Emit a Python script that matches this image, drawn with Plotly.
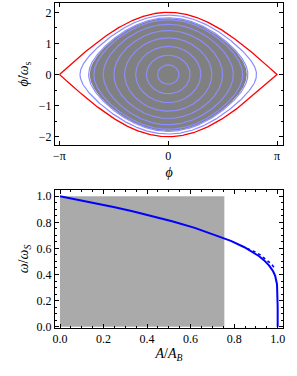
import numpy as np
import plotly.graph_objects as go

# ---------------- data ----------------
# top panel: amplitudes (rad) of the drawn orbits
orbit_amplitudes = [0.31, 0.63, 0.94, 1.26, 1.57, 1.88, 2.15, 2.30, 2.55]
filled_amplitude = 2.27          # edge of the grey filled region
separatrix_amplitude = np.pi     # red separatrix

x_tick_vals_top = [-np.pi, 0.0, np.pi]
x_tick_text_top = ["\u2212\u03c0", "0", "\u03c0"]
y_tick_vals_top = [-2, -1, 0, 1, 2]

# bottom panel: synchrotron frequency vs normalized area
area_ratio = [0.0, 0.08, 0.161, 0.246, 0.333, 0.424, 0.519, 0.619, 0.727,
              0.785, 0.847, 0.878, 0.915, 0.937, 0.961, 0.979, 0.9886,
              0.997, 0.9995, 1.0, 1.0]
freq_ratio = [1.0, 0.974, 0.947, 0.917, 0.884, 0.847, 0.806, 0.757, 0.696,
              0.658, 0.609, 0.579, 0.540, 0.510, 0.468, 0.425, 0.389,
              0.325, 0.25, 0.15, 0.0]
approx_area = [0.86, 0.88, 0.90, 0.92, 0.94, 0.955, 0.97, 0.98, 0.99]
approx_freq = [0.600, 0.588, 0.570, 0.550, 0.525, 0.505, 0.482, 0.462, 0.440]
shaded_area_max = 0.755
shaded_freq_max = 1.0


def orbit(a, n=400):
    """closed pendulum orbit with amplitude a (phi, phidot/omega_s)."""
    phi = a * np.sin(np.linspace(-np.pi / 2, np.pi / 2, n))
    s = np.sqrt(np.clip(np.sin(a / 2) ** 2 - np.sin(phi / 2) ** 2, 0, None))
    x = np.concatenate([phi, phi[::-1]])
    y = np.concatenate([2 * s, -2 * s[::-1]])
    return x, y


fig = go.Figure()

# grey filled region
fx, fy = orbit(filled_amplitude)
fig.add_trace(go.Scatter(x=fx, y=fy, mode="lines", fill="toself",
                         fillcolor="rgb(128,128,128)",
                         line=dict(color="rgb(128,128,128)", width=0),
                         hoverinfo="skip", showlegend=False,
                         xaxis="x", yaxis="y"))
for a in orbit_amplitudes:
    ox, oy = orbit(a)
    fig.add_trace(go.Scatter(x=ox, y=oy, mode="lines",
                             line=dict(color="rgb(140,140,255)", width=1.2),
                             showlegend=False, xaxis="x", yaxis="y"))
sx, sy = orbit(separatrix_amplitude, 800)
fig.add_trace(go.Scatter(x=sx, y=sy, mode="lines",
                         line=dict(color="rgb(255,0,0)", width=1.3),
                         showlegend=False, xaxis="x", yaxis="y"))

# bottom panel
fig.add_trace(go.Scatter(x=[0, shaded_area_max, shaded_area_max, 0, 0],
                         y=[0, 0, shaded_freq_max, shaded_freq_max, 0],
                         mode="lines", fill="toself",
                         fillcolor="rgb(170,170,170)",
                         line=dict(width=0, color="rgb(170,170,170)"),
                         showlegend=False, xaxis="x2", yaxis="y2"))
fig.add_trace(go.Scatter(x=approx_area, y=approx_freq, mode="lines",
                         line=dict(color="rgb(0,0,255)", width=1.6, dash="dot"),
                         showlegend=False, xaxis="x2", yaxis="y2"))
fig.add_trace(go.Scatter(x=area_ratio, y=freq_ratio, mode="lines",
                         line=dict(color="rgb(0,0,255)", width=2),
                         showlegend=False, xaxis="x2", yaxis="y2"))

tick_font = dict(family="Liberation Serif", size=12, color="black")
title_font = dict(family="Liberation Serif", size=14, color="black")

common = dict(showgrid=False, zeroline=False, showline=True,
              linecolor="black", linewidth=1, mirror="allticks",
              ticks="inside", ticklen=4, tickcolor="black",
              tickfont=tick_font)

fig.update_layout(
    width=297, height=376,
    margin=dict(l=55, r=14, t=3, b=48),
    paper_bgcolor="white", plot_bgcolor="white",
    xaxis=dict(domain=[0, 1], anchor="y", range=[-3.272, 3.315],
               tickvals=x_tick_vals_top, ticktext=x_tick_text_top,
               title=dict(text="<i>\u03d5</i>", font=title_font, standoff=4),
               **common),
    yaxis=dict(domain=[0.563, 1], anchor="x", range=[-2.267, 2.30],
               tickvals=y_tick_vals_top,
               minor=dict(ticks="inside", ticklen=2, dtick=0.5, tickcolor="black"),
               title=dict(text="<i>\u03d5\u0307</i>/<i>\u03c9</i><sub>s</sub>",
                          font=title_font, standoff=6),
               **common),
    xaxis2=dict(domain=[0, 1], anchor="y2", range=[-0.023, 1.0245],
                tickvals=[0, 0.2, 0.4, 0.6, 0.8, 1.0], tickformat=".1f",
                minor=dict(ticks="inside", ticklen=2, dtick=0.05, tickcolor="black"),
                title=dict(text="<i>A</i>/<i>A</i><sub><i>B</i></sub>",
                           font=title_font, standoff=2),
                **common),
    yaxis2=dict(domain=[0, 0.4246], anchor="x2", range=[-0.01, 1.0475],
                tickvals=[0, 0.2, 0.4, 0.6, 0.8, 1.0], tickformat=".1f",
                minor=dict(ticks="inside", ticklen=2, dtick=0.05, tickcolor="black"),
                title=dict(text="<i>\u03c9</i>/<i>\u03c9</i><sub><i>S</i></sub>",
                           font=title_font, standoff=4),
                **common),
)

fig.write_html("out.html",
               config={"displayModeBar": False},
               post_script="document.body.style.margin='0px';"
                           "document.body.style.padding='0px';")
